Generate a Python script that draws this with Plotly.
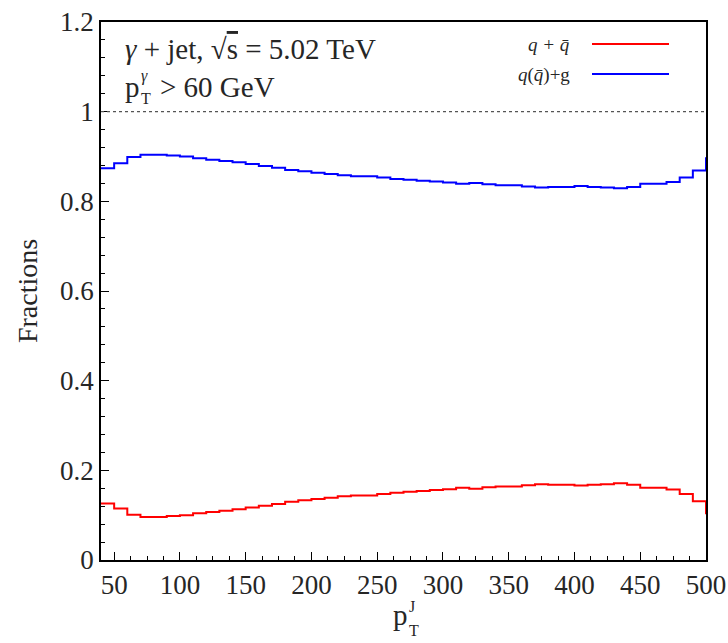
import plotly.graph_objects as go

# Bin left edges (GeV) of the jet pT histogram, 10 GeV bins from 40 to 500,
# plus one overflow bin starting at 500.
bin_edges = [40, 50, 60, 70, 80, 90, 100, 110, 120, 130, 140, 150, 160, 170,
             180, 190, 200, 210, 220, 230, 240, 250, 260, 270, 280, 290, 300,
             310, 320, 330, 340, 350, 360, 370, 380, 390, 400, 410, 420, 430,
             440, 450, 460, 470, 480, 490, 500, 510]

# Quark-initiated jet fraction
frac_qqbar = [0.126, 0.115, 0.101, 0.096, 0.096, 0.098, 0.100, 0.104, 0.107,
              0.110, 0.113, 0.117, 0.121, 0.125, 0.130, 0.133, 0.136, 0.139,
              0.142, 0.144, 0.144, 0.147, 0.150, 0.152, 0.154, 0.156, 0.158,
              0.161, 0.159, 0.162, 0.164, 0.164, 0.167, 0.169, 0.168, 0.168,
              0.166, 0.168, 0.169, 0.171, 0.168, 0.161, 0.161, 0.157, 0.147,
              0.131, 0.104]

# Gluon-initiated jet fraction
frac_gluon = [0.874, 0.885, 0.899, 0.904, 0.904, 0.902, 0.900, 0.896, 0.893,
              0.890, 0.887, 0.883, 0.879, 0.875, 0.870, 0.867, 0.864, 0.861,
              0.858, 0.856, 0.856, 0.853, 0.850, 0.848, 0.846, 0.844, 0.842,
              0.839, 0.841, 0.838, 0.836, 0.836, 0.833, 0.831, 0.832, 0.832,
              0.834, 0.832, 0.831, 0.829, 0.832, 0.839, 0.839, 0.843, 0.853,
              0.869, 0.896]

x_ticks = [50, 100, 150, 200, 250, 300, 350, 400, 450, 500]
y_ticks = [0, 0.2, 0.4, 0.6, 0.8, 1.0, 1.2]
y_ticktext = ["0", "0.2", "0.4", "0.6", "0.8", "1", "1.2"]

FONT = "Liberation Serif"
TXT = "#262626"

W, H = 728, 643
L, R, T, B = 101, 22, 22, 83
PW, PH = W - L - R, H - T - B


def px(x):
    return (x - L) / PW


def py(y):
    return (H - B - y) / PH


fig = go.Figure()

# Step histograms (value held across each bin)
fig.add_trace(go.Scatter(x=bin_edges, y=frac_qqbar + [frac_qqbar[-1]],
                         mode="lines", line=dict(color="#ff0000", width=2, shape="hv"),
                         showlegend=False))
fig.add_trace(go.Scatter(x=bin_edges, y=frac_gluon + [frac_gluon[-1]],
                         mode="lines", line=dict(color="#0000ff", width=2, shape="hv"),
                         showlegend=False))

# Unity reference line
fig.add_shape(type="line", xref="paper", yref="y", x0=0, x1=1, y0=1, y1=1,
              line=dict(color="#555555", width=1.2, dash="dot"))

annotations = []


def text(x, y, s, size, xanchor="left", italic=False):
    if italic:
        s = "<i>" + s + "</i>"
    annotations.append(dict(x=px(x), y=py(y), xref="paper", yref="paper",
                            text=s, showarrow=False, xanchor=xanchor,
                            yanchor="middle", borderpad=0,
                            font=dict(family=FONT, size=size, color=TXT)))


# Process label
text(124, 49, "<i>γ</i> + jet, √<span style='text-decoration:overline'>s</span> = 5.02 TeV", 29)
text(124, 87, "p", 29)
text(140, 99, "T", 16)
text(140, 76, "<i>γ</i>", 16)
text(159, 87, "&gt; 60 GeV", 29)

# Legend
text(571, 45, "q + q̄", 19, xanchor="right", italic=True)
text(571, 75, "<i>q</i>(<i>q̄</i>)+g", 19, xanchor="right")
for yy, col in [(44, "#ff0000"), (74, "#0000ff")]:
    fig.add_shape(type="line", xref="paper", yref="paper",
                  x0=px(592), x1=px(669), y0=py(yy), y1=py(yy),
                  line=dict(color=col, width=2))

# X axis title p_T^J
text(392, 615, "p", 29)
text(408, 630, "T", 16)
text(408, 607, "J", 16)

fig.update_layout(
    width=W, height=H,
    margin=dict(l=L, r=R, t=T, b=B, autoexpand=False),
    paper_bgcolor="white", plot_bgcolor="white",
    annotations=annotations,
    font=dict(family=FONT, size=26, color=TXT),
    xaxis=dict(range=[40, 500], tickvals=x_ticks, ticks="inside", ticklen=8,
               tickwidth=1.2, tickcolor="black", showline=True, linecolor="black",
               linewidth=1.5, mirror=True, showgrid=False, zeroline=False,
               automargin=False, tickfont=dict(family=FONT, size=27, color=TXT),
               minor=dict(dtick=12.5, tick0=0, ticks="inside", ticklen=4,
                          tickwidth=1, tickcolor="black", showgrid=False)),
    yaxis=dict(range=[0, 1.2], tickvals=y_ticks, ticktext=y_ticktext,
               ticks="inside", ticklen=8, tickwidth=1.2, tickcolor="black",
               showline=True, linecolor="black", linewidth=1.5, mirror=True,
               showgrid=False, zeroline=False, automargin=False,
               tickfont=dict(family=FONT, size=27, color=TXT),
               title=dict(text="Fractions", font=dict(family=FONT, size=28, color=TXT), standoff=14),
               minor=dict(dtick=0.04, tick0=0, ticks="inside", ticklen=4,
                          tickwidth=1, tickcolor="black", showgrid=False)),
)

fig.write_html("out.html")
